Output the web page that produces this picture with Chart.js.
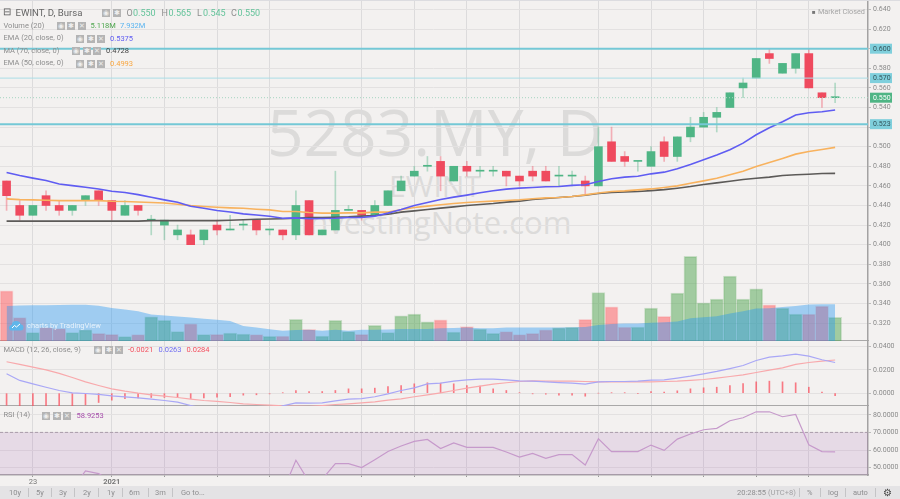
<!DOCTYPE html>
<html>
<head>
<meta charset="utf-8">
<title>EWINT, D, Bursa</title>
<script src="https://cdn.jsdelivr.net/npm/chart.js@4/dist/chart.umd.min.js"></script>
<style>
    html, body { margin: 0; padding: 0; background: #f3f1f0; }
    #wrap { position: relative; width: 900px; height: 499px; overflow: hidden; background: #f3f1f0; font-family: Roboto, sans-serif; filter: blur(0.35px); }
    canvas { position: absolute; left: 0; }
    .t { position: absolute; white-space: pre; line-height: 1; transform: translateY(-50%); }
    .mark { position: absolute; color: #dcdbda; white-space: pre; line-height: 1; transform: translate(-50%, -50%); font-family: "Open Sans", sans-serif; }
    .ic { position: absolute; width: 8px; height: 8px; background: #b4b4b4; color: #eee; font-size: 7px; line-height: 8px; text-align: center; transform: translateY(-50%); }
    .sep { position: absolute; top: 488px; height: 9px; width: 1px; background: #c4c4c6; }
    #bar { position: absolute; left: 0; top: 486px; width: 900px; height: 13px; background: #e4e3e5; }
    #topline { position: absolute; left: 0; top: 0; width: 900px; height: 1px; background: #dcdce0; z-index: 2; }
    #cloud { position: absolute; left: 9px; top: 320px; }
</style>
</head>
<body>
<div id="wrap">
    <div id="bar"></div>
    <div class="mark" style="left:435px;top:132px;font-size:64px">5283.MY, D</div>
    <div class="mark" style="left:435px;top:186px;font-size:30px">EWINT</div>
    <div class="mark" style="left:436px;top:222px;font-size:31px">InvestingNote.com</div>
    <canvas id="mainChart" width="900" height="341" style="top:0"></canvas>
    <canvas id="macdChart" width="900" height="65" style="top:341px"></canvas>
    <canvas id="rsiChart" width="900" height="81" style="top:406px"></canvas>
    <div id="topline"></div>
    <svg id="cloud" width="15" height="11" viewBox="0 0 15 11">
        <path d="M3 10.5a2.8 2.8 0 0 1-.4-5.6 4.8 4.8 0 0 1 9.2-.7 3.2 3.2 0 0 1 .2 6.3z" fill="#5fb6ea"/>
        <path d="M3 8l2.5-2.5 2 1.5L11 4" fill="none" stroke="#fff" stroke-width="1"/>
    </svg>
</div>
<script>
const categories = [
    'Dec 21','Dec 22','Dec 23','Dec 24','Dec 28','Dec 29','Dec 30','Dec 31',
    'Jan 4','Jan 5','Jan 6','Jan 7','Jan 8','Jan 11','Jan 12','Jan 13','Jan 14','Jan 15','Jan 18','Jan 19',
    'Jan 20','Jan 21','Jan 22','Jan 25','Jan 26','Jan 27','Jan 29',
    'Feb 2','Feb 3','Feb 4','Feb 5','Feb 8','Feb 9','Feb 10','Feb 11','Feb 15','Feb 16','Feb 17','Feb 18',
    'Feb 19','Feb 22','Feb 23','Feb 24','Feb 25','Feb 26',
    'Mar 1','Mar 2','Mar 3','Mar 4','Mar 5','Mar 8','Mar 9','Mar 10','Mar 11','Mar 12','Mar 15','Mar 16',
    'Mar 17','Mar 18','Mar 19','Mar 22','Mar 23','Mar 24','Mar 25','Mar 26','Mar 29'
];
const gridTickIdx = [2, 8, 12, 16, 20, 27, 31, 35, 39, 45, 49, 53, 57, 61];
const tickLabels = ['23', '2021', '', '', '', '', '', '', '', '', '', '', '', ''];

const openP = [.465,.44,.43,.45,.44,.435,.445,.455,.445,.43,.44,.425,.42,.41,.41,.405,.42,.415,.42,.425,.415,.415,.41,
    .445,.41,.415,.435,.435,.43,.44,.455,.47,.48,.485,.465,.48,.475,.475,.475,.47,.475,.475,.47,.47,.465,
    .46,.505,.49,.485,.48,.505,.49,.51,.52,.53,.54,.56,.57,.595,.575,.58,.595,.555,.55];
const highP = [.465,.445,.44,.455,.445,.44,.45,.455,.445,.445,.44,.43,.425,.42,.415,.415,.425,.43,.425,.425,.415,.415,.455,
    .445,.415,.475,.44,.435,.445,.455,.47,.48,.49,.49,.48,.485,.48,.48,.475,.47,.48,.48,.48,.475,.47,
    .52,.52,.495,.485,.5,.51,.51,.53,.535,.54,.555,.57,.59,.6,.585,.595,.6,.555,.565];
const lowP = [.435,.425,.43,.435,.43,.43,.44,.44,.425,.43,.43,.41,.405,.405,.4,.4,.41,.415,.415,.41,.41,.405,.405,
    .41,.41,.415,.435,.425,.43,.44,.455,.47,.475,.455,.465,.47,.47,.47,.46,.46,.465,.465,.46,.46,.45,
    .46,.485,.48,.475,.48,.485,.485,.505,.52,.515,.54,.55,.57,.585,.575,.575,.56,.54,.545];
const closeP = [.45,.43,.44,.44,.435,.44,.45,.445,.435,.44,.435,.425,.425,.415,.4,.415,.415,.415,.42,.415,.415,.41,.44,
    .41,.415,.435,.435,.43,.44,.455,.465,.475,.48,.47,.48,.475,.475,.475,.47,.465,.47,.465,.47,.47,.46,
    .5,.485,.485,.485,.495,.49,.51,.52,.53,.535,.555,.565,.59,.59,.585,.595,.56,.55,.55];

const volumeM = [10.8,5.03,1.79,2.87,2.66,1.79,2.38,1.66,1.45,.93,1.36,5.18,4.47,2.01,3.67,1.36,1.45,1.73,1.51,1.36,1.02,1.08,4.69,
    2.53,1.08,4.47,2.01,1.45,3.39,1.79,5.4,5.77,4.1,4.54,1.94,3.09,2.59,1.66,2.01,1.36,1.66,2.38,2.81,2.96,4.69,
    10.43,7.34,3.02,3.02,7.06,5.33,10.3,18.2,8.21,9,13.97,9,11.23,7.78,7.06,5.77,5.77,7.49,5.118];
const volumeMa = [7.56,7.62,7.68,7.72,7.75,7.78,7.8,7.6,7.1,6.8,6.4,5.7,5.5,5.25,5.05,4.8,4.6,4.3,3.25,2.9,2.55,2.2,2.35,
    2.4,2.2,2.4,2.2,2.4,2.4,2.5,2.6,2.6,2.6,2.75,2.8,2.9,2.75,2.75,2.9,2.9,2.9,2.9,2.9,2.95,3,
    3.45,3.65,3.75,3.75,3.95,4.05,4.2,4.9,5.1,5.35,5.9,6.4,7,7.05,7.3,7.55,7.85,7.93,7.932];

const ema20 = [.4737,.4706,.4679,.4655,.462,.4603,.4586,.4569,.4545,.4532,.4511,.4484,.4457,.4433,.4392,.4371,.4348,.4334,.4314,.4303,.429,.4269,.4274,
    .4264,.4267,.427,.4277,.4277,.4291,.4322,.4359,.44,.4431,.4461,.4485,.4506,.453,.455,.4567,.4577,.4584,.4591,.4594,.4605,.4611,
    .4644,.4672,.4689,.4699,.4723,.474,.4774,.4818,.4866,.4914,.4968,.5036,.5122,.5193,.5255,.5323,.5347,.5357,.5375];
const ema50 = [.4467,.446,.4457,.4453,.445,.445,.445,.445,.4443,.444,.4436,.443,.4426,.4413,.4399,.439,.4382,.4376,.4371,.4362,.4355,.4338,.4338,
    .4328,.4322,.4322,.4325,.4325,.4332,.4332,.4356,.438,.4393,.4407,.442,.4431,.4438,.4444,.4451,.4458,.4468,.4478,.4482,.4492,.4508,
    .4528,.4542,.4549,.4559,.4569,.4583,.46,.4627,.4651,.4678,.4713,.475,.4798,.4839,.488,.4924,.4951,.4972,.4993];
const ma70 = [.424,.424,.424,.424,.424,.424,.424,.424,.424,.424,.424,.4245,.4245,.4245,.4245,.4245,.4245,.425,.4255,.426,.4262,.4265,.427,
    .4277,.4277,.428,.4284,.4291,.4298,.4311,.4332,.4345,.4359,.4373,.4386,.44,.441,.442,.4434,.4444,.4461,.4472,.4482,.4492,.4505,
    .4522,.4532,.4539,.4542,.4552,.4562,.4576,.4593,.4614,.4631,.4648,.4665,.4678,.4689,.4706,.4713,.4719,.4726,.4728];

const macdLine = [.0166,.0109,.008,.0051,.0023,.0003,-.0003,-.0011,-.0023,-.0031,-.004,-.0051,-.0063,-.0077,-.0106,-.013,-.015,-.018,-.019,-.019,-.015,-.0109,-.0083,
    -.0086,-.0083,-.0066,-.0051,-.0046,-.0031,-.0006,.0023,.0046,.008,.0086,.0103,.0114,.012,.012,.0114,.0106,.0103,.0097,.0091,.0086,.0077,
    .0097,.01,.01,.0103,.0111,.0114,.0129,.0146,.0166,.0186,.0211,.0237,.028,.0309,.032,.0334,.0317,.0286,.0263];
const signalLine = [.0269,.0246,.0223,.02,.0169,.0134,.0097,.0066,.0037,.0017,0,-.0014,-.0026,-.0037,-.0051,-.0063,-.0071,-.008,-.0091,-.0097,-.0103,-.0109,-.0111,
    -.0114,-.0106,-.0097,-.0091,-.0083,-.0074,-.006,-.0049,-.0031,-.0014,.0003,.0023,.0043,.006,.0077,.0089,.01,.0106,.0103,.0103,.0103,.01,
    .0097,.0097,.0097,.0097,.0097,.01,.0103,.0109,.0117,.0129,.0143,.0157,.0177,.0197,.0217,.0246,.0263,.0274,.0284];
const macdHist = [-.0103,-.0137,-.0143,-.0149,-.0146,-.0131,-.01,-.008,-.006,-.0048,-.004,-.0037,-.0037,-.0034,-.0046,-.004,-.0034,-.0029,-.0017,-.0014,-.0006,.0003,.0023,
    .0014,.0014,.0023,.0037,.0037,.0043,.0057,.0066,.008,.0089,.0086,.008,.0066,.006,.0037,.0023,.0003,-.0006,-.0009,-.0017,-.0017,-.0026,
    0,.0003,.0003,-.0003,.0014,.0009,.002,.0037,.0046,.0051,.0066,.0083,.0097,.0103,.0097,.0089,.0051,.0009,-.0021];

const rsiLine = [40,38,40,38,36,38,48.1,46.6,42,41,40,38,36,35,32,36,34,36,38,37,36,36.2,54.2,
    41.9,43.4,52.3,52.3,50,54.5,59.2,62.3,64.9,66,60.8,64,61.5,61.5,61.5,58.9,56,58.1,55.3,57.4,57.4,51.5,
    66.4,59.1,59.1,59.1,62.8,59.8,66.2,69.1,71.5,72.3,76.6,78.3,81.7,81.7,78.9,80.2,63,59.1,58.93];

const priceTickStep = 0.02;
const macdTickValues = [0, 0.02, 0.04];
const rsiTickValues = [50, 60, 70, 80];
const levelValues = [0.6, 0.57, 0.523];
const levelWidths = [2, 1, 2];
const lastClose = 0.55;

const RED = '#ef4a5e', GREEN = '#4fb585';
const isUp = closeP.map((c, i) => c >= openP[i]);
const bodies = openP.map((o, i) => [o, closeP[i]]);
const wicks = lowP.map((l, i) => [l, highP[i]]);

const axisFont = { family: 'Roboto, sans-serif', size: 7 };
const flat = s => { s.paddingTop = 0; s.paddingBottom = 0; s.paddingLeft = 0; s.paddingRight = 0; };

function xScale(showLabels) {
    return {
        type: 'category',
        offset: true,
        afterBuildTicks: s => { s.ticks = gridTickIdx.map(v => ({ value: v })); },
        afterFit: s => { flat(s); s.height = showLabels ? 12 : 0; },
        grid: { display: true, offset: false, color: '#dcdbdc', drawTicks: showLabels, tickLength: 2, tickColor: '#999' },
        border: { display: true, color: '#a9a8a8', width: 1.5 },
        ticks: {
            display: showLabels,
            autoSkip: false,
            maxRotation: 0,
            padding: 1,
            color: '#777',
            callback: (v, i) => tickLabels[i],
            font: c => ({ ...axisFont, size: 7.5, weight: c.tick && c.tick.label === '2021' ? 'bold' : 'normal' })
        }
    };
}

function yScale(min, max, extra, format) {
    return {
        position: 'right',
        min, max,
        afterFit: s => { flat(s); s.width = 32; },
        grid: { color: '#e3e1e1', drawTicks: true, tickLength: 3, tickColor: '#bbb' },
        border: { display: true, color: '#a3a2a2', width: 1.5 },
        ticks: { color: '#8a8a8a', font: axisFont, padding: 2, callback: format, ...extra }
    };
}

const baseOptions = {
    responsive: false,
    animation: false,
    devicePixelRatio: 1,
    events: [],
    layout: { padding: 0 },
    plugins: { legend: { display: false }, tooltip: { enabled: false } }
};

// horizontal levels and price tags on the main pane
const levelsPlugin = {
    id: 'levels',
    afterDatasetsDraw(chart) {
        const { ctx, chartArea, scales } = chart;
        ctx.save();
        levelValues.forEach((v, i) => {
            const y = scales.y.getPixelForValue(v);
            ctx.strokeStyle = levelWidths[i] > 1 ? '#74c8d6' : '#aadde6';
            ctx.lineWidth = levelWidths[i];
            ctx.beginPath(); ctx.moveTo(0, y); ctx.lineTo(chartArea.right, y); ctx.stroke();
        });
        const y = scales.y.getPixelForValue(lastClose);
        ctx.strokeStyle = '#a6d4c0';
        ctx.lineWidth = 1;
        ctx.setLineDash([1, 2]);
        ctx.beginPath(); ctx.moveTo(0, y); ctx.lineTo(chartArea.right, y); ctx.stroke();
        ctx.restore();
    },
    afterDraw(chart) {
        const { ctx, chartArea, scales } = chart;
        const tag = (v, bg, fg) => {
            const y = scales.y.getPixelForValue(v);
            ctx.fillStyle = bg;
            ctx.fillRect(chartArea.right + 2, y - 5, 22, 10);
            ctx.fillStyle = fg;
            ctx.font = '7px Roboto, sans-serif';
            ctx.textBaseline = 'middle';
            ctx.textAlign = 'left';
            ctx.fillText(v.toFixed(3), chartArea.right + 5, y + 0.5);
        };
        ctx.save();
        levelValues.forEach(v => tag(v, '#7fcfdc', '#33545b'));
        tag(lastClose, GREEN, '#fff');
        ctx.restore();
    }
};

// shaded band and dashed upper band line on the RSI pane
const bandPlugin = {
    id: 'band',
    beforeDatasetsDraw(chart) {
        const { ctx, chartArea, scales } = chart;
        const y = scales.y.getPixelForValue(70);
        ctx.save();
        ctx.fillStyle = 'rgba(155, 80, 170, 0.14)';
        ctx.fillRect(0, y, chartArea.right, chartArea.bottom - y);
        ctx.strokeStyle = '#a99ca9';
        ctx.setLineDash([3, 2]);
        ctx.beginPath(); ctx.moveTo(0, y); ctx.lineTo(chartArea.right, y); ctx.stroke();
        ctx.restore();
    }
};

const line = (data, color, order, width) => ({
    type: 'line', data, borderColor: color, borderWidth: width, pointRadius: 0, tension: 0, order
});

new Chart(document.getElementById('mainChart'), {
    type: 'bar',
    plugins: [levelsPlugin],
    data: {
        labels: categories,
        datasets: [
            line(ema20, '#5f5cf2', 0, 1.6),
            line(ema50, '#f8b25e', 1, 1.6),
            line(ma70, '#5c5a58', 2, 1.6),
            { data: bodies, grouped: false, barThickness: 8, minBarLength: 1, order: 3,
              backgroundColor: isUp.map(u => u ? GREEN : RED),
              borderWidth: 0 },
            { data: wicks, grouped: false, barThickness: 1, order: 4,
              backgroundColor: isUp.map(u => u ? 'rgba(79,181,133,.4)' : 'rgba(239,74,94,.4)') },
            { type: 'line', data: volumeMa, yAxisID: 'vol', order: 5, borderWidth: 0, pointRadius: 0, tension: 0,
              fill: 'origin', backgroundColor: 'rgba(33,150,243,.4)' },
            { data: volumeM, yAxisID: 'vol', grouped: false, barThickness: 13, order: 6, borderWidth: 1,
              backgroundColor: isUp.map(u => u ? 'rgba(80,165,80,.5)' : 'rgba(255,85,90,.5)'),
              borderColor: isUp.map(u => u ? 'rgba(80,165,80,.25)' : 'rgba(255,85,90,.2)') }
        ]
    },
    options: {
        ...baseOptions,
        scales: {
            x: xScale(false),
            y: {
                ...yScale(0.3017, 0.6497, { stepSize: priceTickStep }, v => v.toFixed(3)),
                // drop the end ticks at the axis limits
                afterBuildTicks: s => {
                    s.ticks = s.ticks.filter(t => Math.abs(t.value / priceTickStep - Math.round(t.value / priceTickStep)) < 1e-6);
                }
            },
            vol: { display: false, min: 0, max: 73.4 }
        }
    }
});

new Chart(document.getElementById('macdChart'), {
    type: 'bar',
    data: {
        labels: categories,
        datasets: [
            line(macdLine, '#a9a7f6', 0, 1.2),
            line(signalLine, '#f8a9ac', 1, 1.2),
            { data: macdHist, barThickness: 1, order: 2, backgroundColor: 'rgba(250,80,95,.75)' }
        ]
    },
    options: {
        ...baseOptions,
        scales: {
            x: xScale(false),
            y: {
                ...yScale(-0.011, 0.0447, {}, v => v.toFixed(4)),
                afterBuildTicks: s => { s.ticks = macdTickValues.map(v => ({ value: v })); }
            }
        }
    }
});

new Chart(document.getElementById('rsiChart'), {
    type: 'line',
    plugins: [bandPlugin],
    data: {
        labels: categories,
        datasets: [line(rsiLine, '#c69acb', 0, 1.2)]
    },
    options: {
        ...baseOptions,
        scales: {
            x: xScale(true),
            y: {
                ...yScale(45.8, 85, {}, v => v.toFixed(4)),
                afterBuildTicks: s => { s.ticks = rsiTickValues.map(v => ({ value: v })); }
            }
        }
    }
});

// legend rows, pane captions and the bottom toolbar
const wrap = document.getElementById('wrap');
function text(str, x, y, color, size, extra) {
    const el = document.createElement('div');
    el.className = 't';
    el.textContent = str;
    el.style.cssText = `left:${x}px;top:${y}px;color:${color};font-size:${size}px;${extra || ''}`;
    wrap.appendChild(el);
}
function icons(x, y, glyphs) {
    (glyphs || ['◉', '✱', '✕']).forEach((g, i) => {
        const el = document.createElement('div');
        el.className = 'ic';
        el.textContent = g;
        el.style.left = (x + i * 10.5) + 'px';
        el.style.top = y + 'px';
        wrap.appendChild(el);
    });
}
const GREY = '#8e8e8e', VAL = '#63c39a';
text('⊟', 3, 12, '#555', 10);
text('EWINT, D, Bursa', 15.5, 12.5, '#666', 9.6);
icons(102, 12.5, ['◉', '✱']);
[['O', 126.5, GREY], ['0.550', 133, VAL], ['H', 161.5, GREY], ['0.565', 168.5, VAL], ['L', 197, GREY], ['0.545', 203, VAL], ['C', 231, GREY], ['0.550', 237.5, VAL]]
    .forEach(r => text(r[0], r[1], 12.5, r[2], 9));
text('Volume (20)', 3.5, 25.5, GREY, 7.5);
icons(56.5, 25.5);
text('5.118M', 90.5, 26, '#4ea64e', 7.5);
text('7.932M', 120, 26, '#5ab4f0', 7.5);
text('EMA (20, close, 0)', 3.5, 38, GREY, 7.5);
icons(76, 38.5);
text('0.5375', 110, 38.5, '#5f5cf2', 7.5);
text('MA (70, close, 0)', 3.5, 50.5, GREY, 7.5);
icons(72, 51);
text('0.4728', 106, 51, '#444', 7.5);
text('EMA (50, close, 0)', 3.5, 63, GREY, 7.5);
icons(76, 63.5);
text('0.4993', 110, 63.5, '#f8a63f', 7.5);
text('■', 812, 11.5, '#777', 6);
text('Market Closed', 818, 11.5, '#a5a5a5', 7.3);

text('MACD (12, 26, close, 9)', 3.5, 350, GREY, 7.5);
icons(94, 350);
text('-0.0021', 128, 350, '#f4505f', 7.5);
text('0.0263', 158.5, 350, '#6f6cf2', 7.5);
text('0.0284', 186.5, 350, '#f4505f', 7.5);
text('RSI (14)', 3.5, 415, GREY, 7.5);
icons(42, 415.5);
text('58.9253', 76.5, 415.5, '#a64dab', 7.5);

// tradingview badge over the volume area
text('charts by TradingView', 27, 325.5, 'rgba(255,255,255,.75)', 7.5);

const toolbarLeft = [['10y', 9], ['5y', 36], ['3y', 59], ['2y', 83], ['1y', 107], ['6m', 129], ['3m', 155], ['Go to...', 181]];
toolbarLeft.forEach(r => text(r[0], r[1], 492.5, '#8e8e90', 7.5));
[28, 51, 74, 98, 122, 148, 172, 799, 820, 845, 875].forEach(x => {
    const el = document.createElement('div');
    el.className = 'sep';
    el.style.left = x + 'px';
    wrap.appendChild(el);
});
text('20:28:55', 737, 492.5, '#8e8e90', 7.5);
text('(UTC+8)', 768, 492.5, '#a2a2a4', 7.5);
text('%', 807, 492.5, '#8e8e90', 7.5);
text('log', 828, 492.5, '#8e8e90', 7.5);
text('auto', 853, 492.5, '#8e8e90', 7.5);
text('⚙', 883, 492.5, '#444', 10);
</script>
</body>
</html>
